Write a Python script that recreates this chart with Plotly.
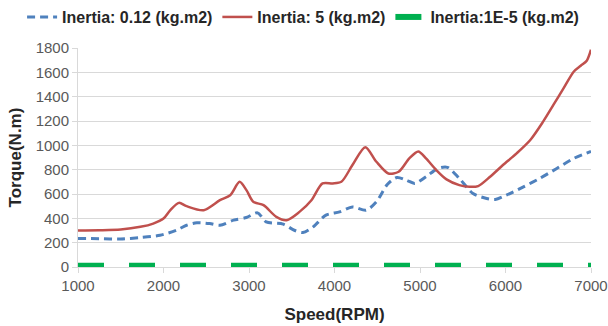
import plotly.graph_objects as go

speed_red = [1000, 1250, 1500, 1730, 1880, 2000, 2080, 2180, 2270, 2470, 2660, 2780, 2890, 2970, 3050,
             3170, 3320, 3440, 3590, 3730, 3860, 3980, 4080, 4210, 4360, 4490, 4630, 4750, 4875,
             4980, 5070, 5190, 5310, 5460, 5580, 5680, 5820, 5970, 6130, 6290, 6440, 6560, 6680,
             6800, 6880, 6950, 7000]
torque_red = [300, 302, 308, 330, 357, 398, 467, 527, 500, 467, 549, 590, 700, 632, 536,
              508, 412, 385, 453, 549, 687, 687, 700, 838, 985, 865, 769, 783, 893,
              950, 893, 797, 720, 673, 659, 665, 742, 838, 934, 1044, 1195, 1332, 1470,
              1607, 1654, 1695, 1786]

speed_blue = [1000, 1250, 1500, 1730, 1960, 2150, 2270, 2390, 2540, 2660, 2820, 2970, 3100, 3200,
              3400, 3530, 3630, 3750, 3900, 4060, 4210, 4370, 4490, 4620, 4730, 4840, 4940,
              5070, 5210, 5320, 5460, 5620, 5780, 5880, 6010, 6210, 6400, 6600, 6800, 7000]
torque_blue = [235, 233, 230, 242, 261, 302, 343, 363, 357, 343, 385, 407, 445, 371,
               352, 302, 283, 330, 426, 453, 494, 467, 536, 680, 736, 714, 687,
               742, 810, 819, 728, 604, 563, 555, 591, 659, 728, 810, 893, 950]

speed_green = [1000, 7000]
torque_green = [10, 10]

series_names = ["Inertia: 0.12 (kg.m2)", "Inertia: 5 (kg.m2)", "Inertia:1E-5 (kg.m2)"]

fig = go.Figure()
fig.add_trace(go.Scatter(x=speed_blue, y=torque_blue, mode="lines", name=series_names[0],
                         line=dict(color="#4F81BD", width=3, dash="8px,5px", shape="spline", smoothing=0.8)))
fig.add_trace(go.Scatter(x=speed_red, y=torque_red, mode="lines", name=series_names[1],
                         line=dict(color="#C0504D", width=2.5, shape="spline", smoothing=0.8)))
fig.add_trace(go.Scatter(x=speed_green, y=torque_green, mode="lines", name=series_names[2],
                         line=dict(color="#00B050", width=6, dash="26px,25px")))

tick_font = dict(family="Liberation Sans", size=15, color="#595959")
title_font = dict(family="Liberation Sans", size=17, color="#262626")
fig.update_layout(
    width=608, height=326,
    margin=dict(l=78, r=17, t=48, b=59, autoexpand=False),
    plot_bgcolor="white", paper_bgcolor="white",
    showlegend=True,
    legend=dict(orientation="h", xref="paper", yref="paper", x=-0.109, y=1.219,
                xanchor="left", yanchor="top",
                font=dict(family="Liberation Sans", size=16, color="#262626", weight="bold"),
                itemwidth=30, tracegroupgap=0),
    xaxis=dict(range=[1000, 7000], dtick=1000, showgrid=False, showline=True, linecolor="#D9D9D9",
               linewidth=1, ticks="outside", ticklen=5, tickcolor="#D9D9D9", tickfont=tick_font,
               zeroline=False,
               title=dict(text="<b>Speed(RPM)</b>", font=title_font, standoff=15)),
    yaxis=dict(range=[0, 1800], dtick=200, showgrid=True, gridcolor="#D9D9D9", gridwidth=1,
               showline=True, linecolor="#D9D9D9", ticks="outside", ticklen=5, tickcolor="#D9D9D9",
               tickfont=tick_font, zeroline=False,
               title=dict(text="<b>Torque(N.m)</b>", font=title_font, standoff=9)),
)
fig.write_html("out.html")
